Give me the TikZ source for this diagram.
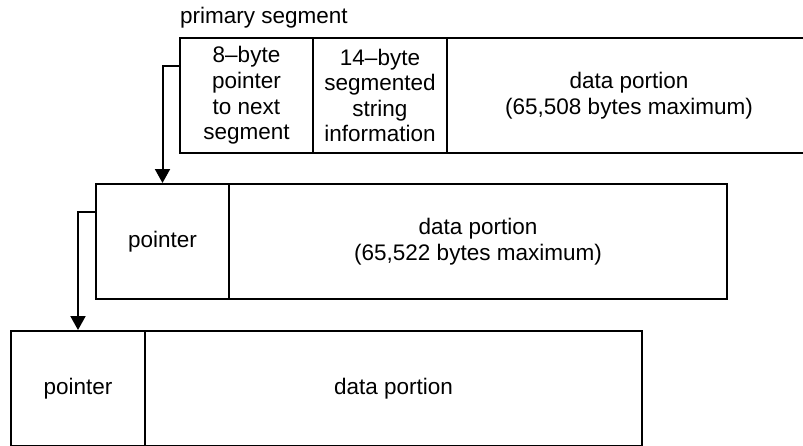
\documentclass[tikz,border=0pt]{standalone}
\usepackage{fontspec}
\setmainfont{Liberation Sans}
\usetikzlibrary{arrows.meta}
\begin{document}
\begin{tikzpicture}[x=1pt,y=-1pt,
  cell/.style={draw, line width=2pt, minimum height=115pt, inner sep=0pt, align=center,
    font=\fontsize{22.5}{25.6}\selectfont},
  lbl/.style={inner sep=0pt, font=\fontsize{22.5}{25.6}\selectfont},
  arr/.style={line width=2pt, -{Triangle[width=15pt,length=14pt]}}]
\useasboundingbox (0,0) rectangle (803,445);
\clip (0,0) rectangle (803,445);
\node[lbl, anchor=base west] (title) at (180,23.5) {primary segment};
% primary segment
\node[cell, minimum width=133pt] (p1) at (246.5,95.5) {8–byte\\pointer\\to next\\segment};
\node[cell, minimum width=134pt] (s1) at (380,95.5) {14–byte\\segmented\\string\\information};
\node[cell, minimum width=364pt] (d1) at (629,95.5) {data portion\\(65,508 bytes maximum)};
% second segment
\node[cell, minimum width=133pt] (p2) at (162.5,241.5) {pointer};
\node[cell, minimum width=498pt] (d2) at (478,241.5) {data portion\\(65,522 bytes maximum)};
% third segment
\node[cell, minimum width=134pt] (p3) at (78,388.5) {pointer};
\node[cell, minimum width=497pt] (d3) at (393.5,388.5) {data portion};
% connectors
\draw[arr] ([yshift=-29pt]p1.north west) -| (p2.north);
\draw[arr] ([yshift=-29pt]p2.north west) -| (p3.north);
\end{tikzpicture}
\end{document}
